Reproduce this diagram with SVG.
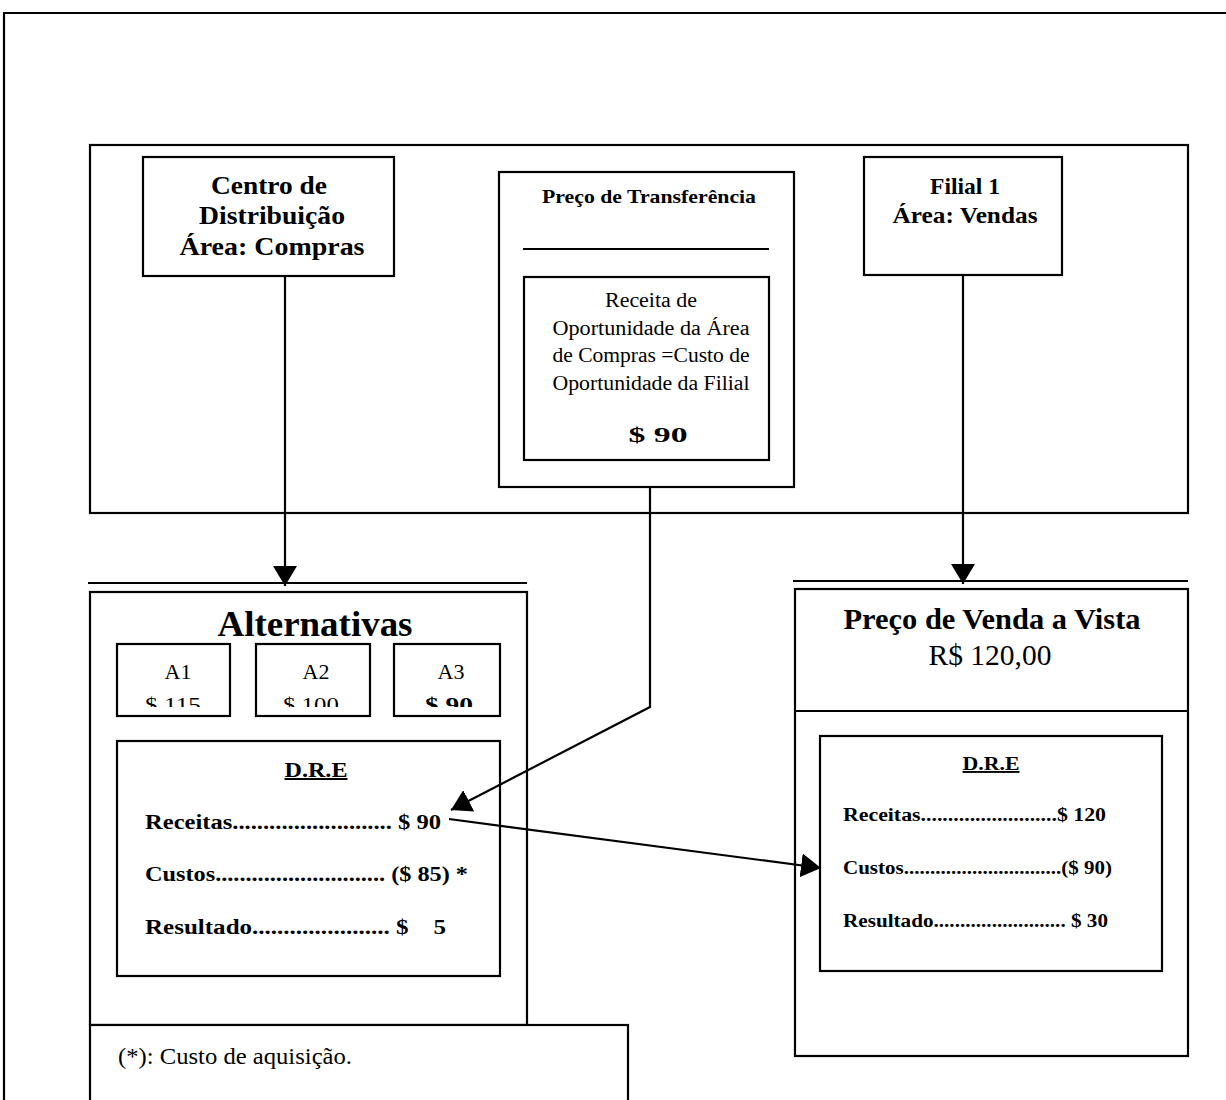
<svg xmlns="http://www.w3.org/2000/svg" width="1226" height="1100" viewBox="0 0 1226 1100">
  <style>
    .box { fill: #fff; stroke: #000; stroke-width: 2.2; }
    .ln { fill: none; stroke: #000; stroke-width: 2.2; }
    .t { font-family: "Liberation Serif", "Times New Roman", serif; fill: #000; white-space: pre; }
    .b { font-weight: bold; }
    .c { text-anchor: middle; }
  </style>
  <defs>
    <marker id="arrowBig" viewBox="0 0 20 24" refX="20" refY="12" markerWidth="20" markerHeight="24" markerUnits="userSpaceOnUse" orient="auto">
      <path d="M0,0 L20,12 L0,24 z" fill="#000"/>
    </marker>
    <clipPath id="altClip">
      <rect x="100" y="640" width="420" height="67"/>
    </clipPath>
  </defs>

  <rect width="1226" height="1100" fill="#fff"/>

  <!-- outer frame -->
  <path class="ln" d="M4,1100 L4,13 L1226,13" stroke-width="2.5"/>

  <!-- upper band -->
  <g id="upper-band">
    <rect class="box" x="90" y="145" width="1098" height="368"/>
  </g>

  <g id="centro">
    <rect class="box" x="143" y="157" width="251" height="119"/>
    <text class="t b c" x="269" y="194" font-size="25" textLength="116" lengthAdjust="spacingAndGlyphs">Centro de</text>
    <text class="t b c" x="272" y="224" font-size="25" textLength="146" lengthAdjust="spacingAndGlyphs">Distribuição</text>
    <text class="t b c" x="272" y="255" font-size="25" textLength="185" lengthAdjust="spacingAndGlyphs">Área: Compras</text>
  </g>

  <g id="preco-transferencia">
    <rect class="box" x="499" y="172" width="295" height="315"/>
    <text class="t b c" x="649" y="203" font-size="19" textLength="214" lengthAdjust="spacingAndGlyphs">Preço de Transferência</text>
    <line class="ln" x1="523" y1="249" x2="769" y2="249"/>
    <rect class="box" x="524" y="277" width="245" height="183"/>
    <text class="t c" x="651" y="307" font-size="20" textLength="92" lengthAdjust="spacingAndGlyphs">Receita de</text>
    <text class="t c" x="651" y="335" font-size="20" textLength="197" lengthAdjust="spacingAndGlyphs">Oportunidade da Área</text>
    <text class="t c" x="651" y="362" font-size="20" textLength="197" lengthAdjust="spacingAndGlyphs">de Compras =Custo de</text>
    <text class="t c" x="651" y="390" font-size="20" textLength="197" lengthAdjust="spacingAndGlyphs">Oportunidade da Filial</text>
    <text class="t b c" x="658" y="442" font-size="21" textLength="59" lengthAdjust="spacingAndGlyphs">$ 90</text>
  </g>

  <g id="filial">
    <rect class="box" x="864" y="157" width="198" height="118"/>
    <text class="t b c" x="965" y="194" font-size="23" textLength="70" lengthAdjust="spacingAndGlyphs">Filial 1</text>
    <text class="t b c" x="965" y="223" font-size="23" textLength="145" lengthAdjust="spacingAndGlyphs">Área: Vendas</text>
  </g>

  <!-- Alternativas block -->
  <g id="alternativas">
    <line class="ln" x1="88" y1="583" x2="527" y2="583"/>
    <rect class="box" x="90" y="592" width="437" height="433"/>
    <text class="t b c" x="315" y="636" font-size="35" textLength="195" lengthAdjust="spacingAndGlyphs">Alternativas</text>
    <rect class="box" x="117" y="644" width="113" height="72"/>
    <rect class="box" x="256" y="644" width="114" height="72"/>
    <rect class="box" x="394" y="644" width="106" height="72"/>
    <g clip-path="url(#altClip)">
      <text class="t c" x="178" y="679" font-size="22">A1</text>
      <text class="t c" x="173" y="712" font-size="22" textLength="56" lengthAdjust="spacingAndGlyphs">$ 115</text>
      <text class="t c" x="316" y="679" font-size="22">A2</text>
      <text class="t c" x="314" y="712" font-size="22" textLength="62" lengthAdjust="spacingAndGlyphs">$ 100.</text>
      <text class="t c" x="451" y="679" font-size="22">A3</text>
      <text class="t b c" x="449" y="712" font-size="22" textLength="48" lengthAdjust="spacingAndGlyphs">$ 90</text>
    </g>
  </g>

  <g id="dre-compras">
    <rect class="box" x="117" y="741" width="383" height="235"/>
    <text class="t b c" x="316" y="777" font-size="20" text-decoration="underline" textLength="63" lengthAdjust="spacingAndGlyphs">D.R.E</text>
    <text class="t b" x="145" y="829" font-size="20" textLength="296" lengthAdjust="spacingAndGlyphs">Receitas.......................... $ 90</text>
    <text class="t b" x="145" y="881" font-size="20" textLength="323" lengthAdjust="spacingAndGlyphs">Custos............................ ($ 85) *</text>
    <text class="t b" x="145" y="934" font-size="20" textLength="301" lengthAdjust="spacingAndGlyphs">Resultado...................... $    5</text>
  </g>

  <g id="nota">
    <rect class="box" x="90" y="1025" width="538" height="90"/>
    <text class="t" x="118" y="1064" font-size="23" textLength="234" lengthAdjust="spacingAndGlyphs">(*): Custo de aquisição.</text>
  </g>

  <!-- Preço de Venda block -->
  <g id="preco-venda">
    <line class="ln" x1="793" y1="581" x2="1188" y2="581"/>
    <rect class="box" x="795" y="589" width="393" height="467"/>
    <line class="ln" x1="795" y1="711" x2="1188" y2="711"/>
    <text class="t b c" x="992" y="629" font-size="30" textLength="297" lengthAdjust="spacingAndGlyphs">Preço de Venda a Vista</text>
    <text class="t c" x="990" y="665" font-size="29" textLength="123" lengthAdjust="spacingAndGlyphs">R$ 120,00</text>
  </g>

  <g id="dre-filial">
    <rect class="box" x="820" y="736" width="342" height="235"/>
    <text class="t b c" x="991" y="770" font-size="19" text-decoration="underline" textLength="57" lengthAdjust="spacingAndGlyphs">D.R.E</text>
    <text class="t b" x="843" y="821" font-size="18" textLength="263" lengthAdjust="spacingAndGlyphs">Receitas.........................$ 120</text>
    <text class="t b" x="843" y="874" font-size="18" textLength="269" lengthAdjust="spacingAndGlyphs">Custos..............................($ 90)</text>
    <text class="t b" x="843" y="927" font-size="18" textLength="265" lengthAdjust="spacingAndGlyphs">Resultado......................... $ 30</text>
  </g>

  <!-- connectors -->
  <g id="connectors">
    <line class="ln" x1="285" y1="276" x2="285" y2="586" marker-end="url(#arrowBig)"/>
    <line class="ln" x1="963" y1="275" x2="963" y2="584" marker-end="url(#arrowBig)"/>
    <polyline class="ln" points="650,487 650,707 451,810" marker-end="url(#arrowBig)"/>
    <line class="ln" x1="449" y1="819" x2="821" y2="868" marker-end="url(#arrowBig)"/>
  </g>
</svg>
